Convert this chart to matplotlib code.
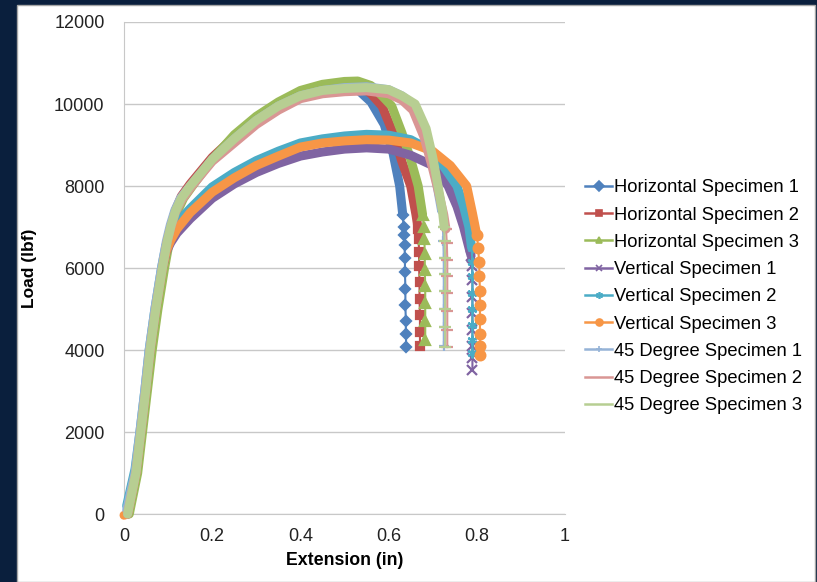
import numpy as np
import matplotlib

matplotlib.use("Agg")
import matplotlib.pyplot as plt
from matplotlib.lines import Line2D
from matplotlib.patches import Rectangle

plt.rcParams["font.family"] = ["Liberation Sans", "DejaVu Sans"]

# ============================================
# DATA
# ============================================

labels = [
    "Horizontal Specimen 1",
    "Horizontal Specimen 2",
    "Horizontal Specimen 3",
    "Vertical Specimen 1",
    "Vertical Specimen 2",
    "Vertical Specimen 3",
    "45 Degree Specimen 1",
    "45 Degree Specimen 2",
    "45 Degree Specimen 3",
]

# horizontal specimens
h1_x = [0.008, 0.027, 0.038, 0.049, 0.059, 0.072, 0.087, 0.098, 0.107, 0.117, 0.13, 0.15, 0.2, 0.25, 0.3, 0.35, 0.4, 0.45, 0.5, 0.53, 0.56, 0.59, 0.61, 0.625, 0.632,
        0.634, 0.635, 0.636, 0.637, 0.637, 0.638, 0.638, 0.639, 0.639, 0.64]
h1_y = [0, 1000, 2000, 3000, 4000, 5000, 6000, 6650, 7050, 7400, 7700, 8000, 8650, 9150, 9550, 9900, 10150, 10320, 10400, 10350, 10050, 9500, 8800, 8000, 7300,
        7000, 6800, 6550, 6250, 5900, 5500, 5100, 4700, 4400, 4070]

h2_x = [0.008, 0.027, 0.038, 0.049, 0.059, 0.072, 0.087, 0.098, 0.107, 0.117, 0.13, 0.15, 0.2, 0.25, 0.3, 0.35, 0.4, 0.45, 0.5, 0.54, 0.56, 0.585, 0.61, 0.63, 0.65, 0.662,
        0.667, 0.668, 0.669, 0.669, 0.67, 0.67, 0.671, 0.671, 0.671]
h2_y = [0, 1000, 2000, 3000, 4000, 5000, 6000, 6650, 7050, 7420, 7750, 8050, 8700, 9200, 9600, 9950, 10200, 10370, 10450, 10400, 10250, 9950, 9300, 8600, 8000, 7300,
        6950, 6700, 6400, 6050, 5650, 5250, 4850, 4450, 4100]

h3_x = [0.012, 0.031, 0.042, 0.053, 0.064, 0.077, 0.092, 0.103, 0.112, 0.122, 0.135, 0.155, 0.2, 0.25, 0.3, 0.35, 0.4, 0.45, 0.5, 0.53, 0.56, 0.585, 0.607, 0.63, 0.65, 0.667, 0.677,
        0.68, 0.681, 0.682, 0.682, 0.683, 0.683, 0.683, 0.683]
h3_y = [0, 1000, 2000, 3000, 4000, 5000, 6000, 6650, 7050, 7400, 7700, 8000, 8650, 9250, 9700, 10050, 10330, 10480, 10550, 10560, 10450, 10200, 9950, 9300, 8650, 8000, 7300,
        7000, 6700, 6350, 5950, 5550, 5150, 4700, 4240]

# vertical specimens
v1_x = [0.008, 0.027, 0.038, 0.049, 0.059, 0.072, 0.087, 0.096, 0.106, 0.12, 0.15, 0.2, 0.25, 0.3, 0.35, 0.4, 0.45, 0.5, 0.55, 0.6, 0.65, 0.7, 0.735, 0.755, 0.77, 0.782,
        0.787, 0.789, 0.79, 0.79, 0.79, 0.79, 0.79, 0.79, 0.79]
v1_y = [0, 1000, 2000, 3000, 4000, 5000, 6000, 6400, 6620, 6850, 7200, 7700, 8050, 8330, 8550, 8730, 8830, 8900, 8930, 8900, 8750, 8500, 8000, 7500, 7000, 6500,
        6300, 6050, 5700, 5300, 4900, 4500, 4100, 3800, 3510]

v2_x = [0.006, 0.025, 0.036, 0.047, 0.057, 0.07, 0.085, 0.095, 0.106, 0.12, 0.15, 0.2, 0.25, 0.3, 0.35, 0.4, 0.45, 0.5, 0.55, 0.6, 0.65, 0.69, 0.72, 0.755, 0.77, 0.782,
        0.788, 0.79, 0.79, 0.79, 0.79, 0.79, 0.79, 0.79]
v2_y = [200, 1100, 2000, 3000, 4000, 5000, 6000, 6550, 6850, 7100, 7450, 7980, 8330, 8620, 8850, 9050, 9150, 9220, 9260, 9240, 9130, 8900, 8550, 8000, 7500, 7000,
        6500, 6150, 5800, 5400, 5000, 4600, 4250, 3930]

v3_x = [0.0, 0.008, 0.027, 0.038, 0.049, 0.059, 0.072, 0.087, 0.096, 0.106, 0.12, 0.15, 0.2, 0.25, 0.3, 0.35, 0.4, 0.45, 0.5, 0.55, 0.6, 0.65, 0.7, 0.74, 0.777, 0.79, 0.8,
        0.803, 0.805, 0.806, 0.807, 0.807, 0.807, 0.807, 0.807, 0.807]
v3_y = [-30, 0, 1000, 2000, 3000, 4000, 5000, 6000, 6420, 6680, 6950, 7350, 7850, 8200, 8500, 8730, 8950, 9050, 9100, 9130, 9120, 9050, 8850, 8500, 8000, 7340, 6800,
        6500, 6150, 5800, 5450, 5100, 4750, 4400, 4100, 3880]

# 45 degree specimens
d1_x = [0.006, 0.025, 0.036, 0.047, 0.057, 0.07, 0.085, 0.096, 0.105, 0.115, 0.128, 0.15, 0.2, 0.25, 0.3, 0.35, 0.4, 0.45, 0.5, 0.55, 0.6, 0.63, 0.66, 0.685, 0.7, 0.71, 0.72,
        0.723, 0.724, 0.725, 0.725, 0.725, 0.725, 0.725, 0.725]
d1_y = [100, 1000, 2000, 3000, 4000, 5000, 6000, 6650, 7050, 7400, 7700, 8000, 8650, 9150, 9600, 9950, 10200, 10330, 10400, 10420, 10350, 10200, 9950, 9300, 8600, 8000, 7400,
        7000, 6650, 6250, 5850, 5450, 5000, 4550, 4100]

d2_x = [0.008, 0.027, 0.038, 0.049, 0.059, 0.072, 0.087, 0.098, 0.107, 0.117, 0.13, 0.15, 0.2, 0.25, 0.3, 0.35, 0.4, 0.45, 0.5, 0.55, 0.6, 0.63, 0.655, 0.68, 0.698, 0.712, 0.725,
        0.73, 0.732, 0.733, 0.733, 0.733, 0.733, 0.733, 0.733]
d2_y = [0, 1000, 2000, 3000, 4000, 5000, 6000, 6650, 7030, 7370, 7650, 7950, 8600, 9050, 9500, 9850, 10130, 10250, 10300, 10320, 10250, 10100, 9850, 9200, 8500, 7900, 7300,
        6950, 6600, 6200, 5800, 5400, 4950, 4500, 4070]

d3_x = [0.008, 0.027, 0.038, 0.049, 0.059, 0.072, 0.087, 0.098, 0.107, 0.117, 0.13, 0.15, 0.2, 0.25, 0.3, 0.35, 0.4, 0.45, 0.5, 0.55, 0.6, 0.63, 0.66, 0.685, 0.7, 0.712, 0.722,
        0.726, 0.727, 0.728, 0.728, 0.728, 0.728, 0.728, 0.728]
d3_y = [0, 1000, 2000, 3000, 4000, 5000, 6000, 6650, 7050, 7400, 7700, 8000, 8650, 9150, 9600, 9950, 10200, 10330, 10380, 10400, 10350, 10200, 10000, 9400, 8700, 8000, 7400,
        7000, 6650, 6250, 5850, 5450, 5000, 4550, 4080]

series_x = [h1_x, h2_x, h3_x, v1_x, v2_x, v3_x, d1_x, d2_x, d3_x]
series_y = [h1_y, h2_y, h3_y, v1_y, v2_y, v3_y, d1_y, d2_y, d3_y]

x_ticks = [0, 0.2, 0.4, 0.6, 0.8, 1]
y_ticks = [0, 2000, 4000, 6000, 8000, 10000, 12000]

# ============================================
# STYLE
# ============================================

COLORS = ["#4F81BD", "#C0504D", "#9BBB59", "#8064A2", "#4BACC6", "#F79646",
          "#95B3D7", "#D99694", "#B7CE92"]
MARKERS = ["D", "s", "^", "x", (6, 2, 0), "o", "+", "_", "_"]
MSIZES = [5.5, 6, 6.5, 7, 7, 7, 7, 8, 8]
GRID = "#C8C8C8"


def drop_start(x, y):
    """index where the curve turns into the near-vertical fracture drop"""
    peak = int(np.argmax(y))
    dx = np.abs(np.diff(x))
    for i in range(peak, len(dx)):
        if dx[i] < 0.004:
            return i
    return len(x) - 1


fig = plt.figure(figsize=(8.17, 5.82), dpi=100)
fig.patch.set_facecolor("#0a1f3d")
fig.patches.append(Rectangle((0.021, 0.0), 0.977, 0.991, transform=fig.transFigure,
                             facecolor="white", edgecolor="#A6A6A6", linewidth=1, zorder=-5))

ax = fig.add_axes([0.1518, 0.1168, 0.5398, 0.8454])
ax.set_facecolor("white")
ax.set_zorder(2)

for i, (xs, ys) in enumerate(zip(series_x, series_y)):
    xs = np.array(xs)
    ys = np.array(ys)
    k = drop_start(xs, ys)
    # dense markers make the main curve a thick band
    ax.plot(xs[:k + 1], ys[:k + 1], color=COLORS[i], linewidth=6.5,
            solid_capstyle="round", solid_joinstyle="round", clip_on=False, zorder=2 + i)
    ax.plot(xs[k:], ys[k:], color=COLORS[i], linewidth=1.5, marker=MARKERS[i],
            markersize=MSIZES[i], markeredgewidth=1.6, clip_on=False, zorder=2 + i)

ax.set_xlim(0, 1)
ax.set_ylim(0, 12000)
ax.set_xticks(x_ticks)
ax.set_xticklabels(["0", "0.2", "0.4", "0.6", "0.8", "1"])
ax.set_yticks(y_ticks)
ax.yaxis.grid(True, color=GRID, linewidth=1)
ax.set_axisbelow(True)
for s in ["top", "right"]:
    ax.spines[s].set_visible(False)
ax.spines["left"].set_color(GRID)
ax.spines["bottom"].set_color(GRID)
ax.tick_params(length=0, labelsize=13, colors="#222222")
ax.tick_params(axis="x", pad=10)
ax.tick_params(axis="y", pad=14)

ax.set_xlabel("Extension (in)", fontsize=12.8, fontweight="bold", labelpad=5)
ax.set_ylabel("Load (lbf)", fontsize=12.5, fontweight="bold", labelpad=12)

handles = [
    Line2D([], [], color=COLORS[i], linewidth=1.8, marker=MARKERS[i],
           markersize=5 if MARKERS[i] not in ("_",) else 0, markeredgewidth=1.2)
    for i in range(len(labels))
]
leg = fig.legend(handles, labels, loc="upper left", bbox_to_anchor=(0.716, 0.692),
                 frameon=False, fontsize=13.2, handlelength=1.5, handletextpad=0.1,
                 labelspacing=0.56, borderaxespad=0, borderpad=0)
leg.set_zorder(3)

fig.savefig("out.png", dpi=100, facecolor=fig.get_facecolor())
plt.close()
